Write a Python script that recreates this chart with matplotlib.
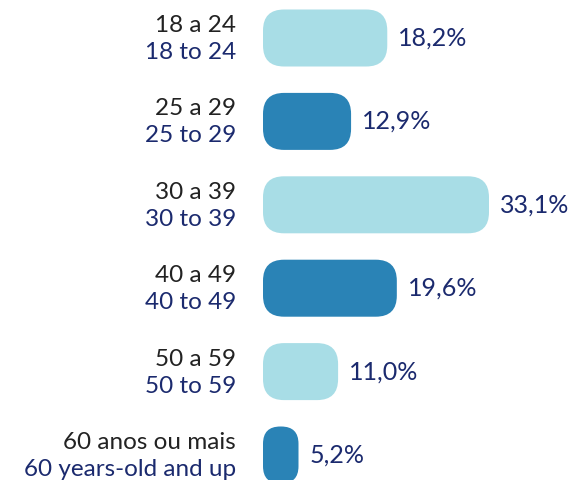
import matplotlib
matplotlib.use("Agg")
import matplotlib.pyplot as plt
from matplotlib.patches import FancyBboxPatch

labels_pt = ["18 a 24", "25 a 29", "30 a 39", "40 a 49", "50 a 59", "60 anos ou mais"]
labels_en = ["18 to 24", "25 to 29", "30 to 39", "40 to 49", "50 to 59", "60 years-old and up"]
values = [18.2, 12.9, 33.1, 19.6, 11.0, 5.2]
value_labels = ["18,2%", "12,9%", "33,1%", "19,6%", "11,0%", "5,2%"]

LIGHT = "#a8dde6"
DARK = "#2a83b6"
NAVY = "#1b2a6e"
GRAY = "#222222"
colors = [LIGHT, DARK, LIGHT, DARK, LIGHT, DARK]

W, H = 580, 480
fig = plt.figure(figsize=(W / 100, H / 100), dpi=100)
ax = fig.add_axes([0, 0, 1, 1])

x0_px = 263
px_per_unit_x = (489 - x0_px) / 33.1
ax.set_xlim(-x0_px / px_per_unit_x, (W - x0_px) / px_per_unit_x)
y_first, y_last = 38, 455
px_per_unit_y = (y_last - y_first) / 5
ax.set_ylim(5 + (H - y_last) / px_per_unit_y, -y_first / px_per_unit_y)
ax.axis("off")

bar_h_px = 57
bar_h = bar_h_px / px_per_unit_y
font = "Lato"

for i, (v, c) in enumerate(zip(values, colors)):
    w_px = v * px_per_unit_x
    r_px = min(21, w_px / 2 - 0.5)
    r_x = r_px / px_per_unit_x
    aspect = px_per_unit_x / px_per_unit_y
    patch = FancyBboxPatch((0, i - bar_h / 2), v, bar_h,
                           boxstyle=f"round,pad=0,rounding_size={r_x}",
                           mutation_aspect=aspect,
                           facecolor=c, edgecolor="none")
    ax.add_patch(patch)
    ax.text(v + 11 / px_per_unit_x, i, value_labels[i], ha="left", va="center",
            fontsize=18, color=NAVY, family=font)
    lx = (236 - x0_px) / px_per_unit_x
    ax.text(lx, i - 6 / px_per_unit_y, labels_pt[i], ha="right", va="baseline",
            fontsize=17.5, color=GRAY, family=font)
    ax.text(lx, i + 21 / px_per_unit_y, labels_en[i], ha="right", va="baseline",
            fontsize=17.5, color=NAVY, family=font)

fig.savefig("out.png", dpi=100, facecolor="white")
